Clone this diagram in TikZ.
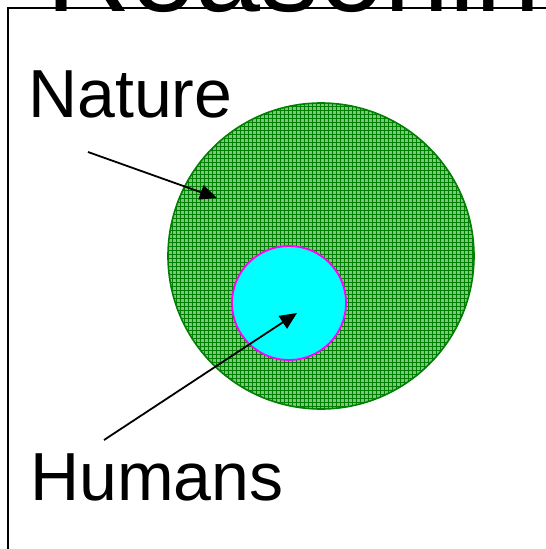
\documentclass[tikz,border=0pt]{standalone}
\usepackage{fontspec}
\setmainfont{Liberation Sans}
\usetikzlibrary{arrows.meta}
\definecolor{natgreen}{RGB}{0,128,0}
\definecolor{natfill}{RGB}{130,195,130}
\definecolor{humfill}{RGB}{0,255,255}
\definecolor{humedge}{RGB}{255,0,255}

\begin{document}
\begin{tikzpicture}[x=1pt,y=-1pt,
  label/.style={anchor=base west,inner sep=0pt,font=\fontsize{68}{68}\selectfont},
  pointer/.style={line width=1.8pt,-{Triangle[length=17pt,width=15pt]}}]
\useasboundingbox (0,0) rectangle (546,549);
% title cut off by the page edge
\node[anchor=base west,inner sep=0pt,font=\fontsize{117}{117}\selectfont] (title) at (46,11) {Reasoning};
\draw[line width=2pt] (8,549) -- (8,8) -- (546,8);
% nature circle with grid fill
\begin{scope}
\clip (321,256) circle (153);
\fill[natfill] (321,256) circle (153);
\foreach \g in {102,106,...,410} {
  \draw[natgreen,line width=0.45pt] (\g+66,101) -- (\g+66,411);
  \draw[natgreen,line width=0.45pt] (166,\g) -- (476,\g);
}
\end{scope}
\draw[natgreen,line width=1.6pt] (321,256) circle (153);
% humans circle
\filldraw[fill=humfill,draw=humedge,line width=1.8pt] (289,303) circle (57);
\node[label] (nature) at (28,117) {Nature};
\node[label] (humans) at (30,500) {Humans};
\coordinate (natfrom) at (88,152); \coordinate (natto) at (217,198);
\coordinate (humfrom) at (104,440); \coordinate (humto) at (297,313);
\draw[pointer] (natfrom) -- (natto);
\draw[pointer] (humfrom) -- (humto);
\end{tikzpicture}
\end{document}
